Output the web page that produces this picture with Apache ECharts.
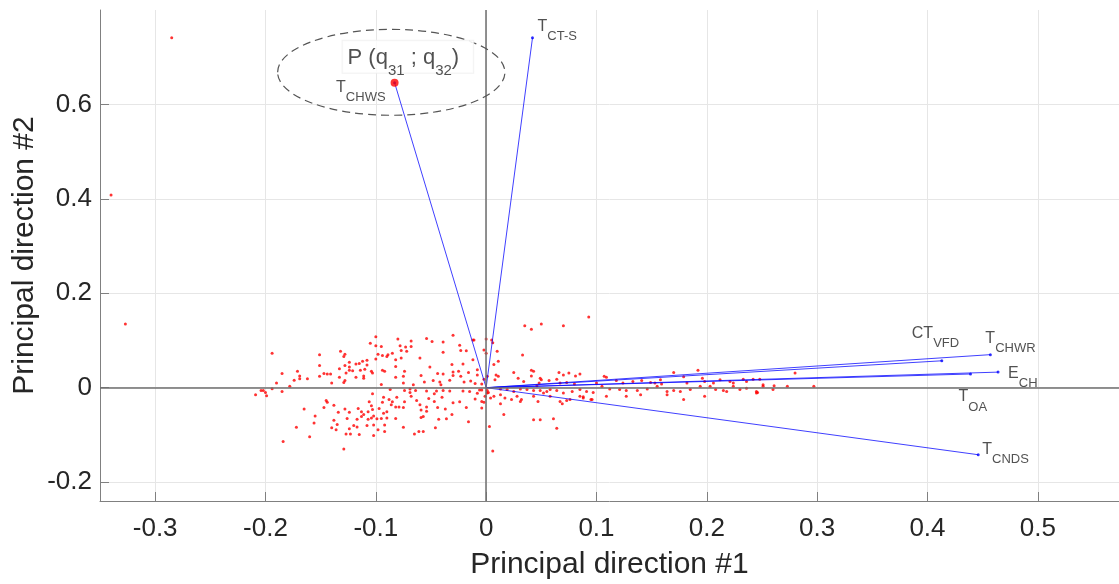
<!DOCTYPE html>
<html>
<head>
<meta charset="utf-8">
<title>Principal component biplot</title>
<script src="https://cdn.jsdelivr.net/npm/echarts@6/dist/echarts.min.js"></script>
<style>
  html, body { margin: 0; padding: 0; background: #ffffff; }
  #chart { width: 1119px; height: 584px; }
</style>
</head>
<body>
<div id="chart"></div>
<script>
// ---- axes ----
const xTicks = [-0.3, -0.2, -0.1, 0, 0.1, 0.2, 0.3, 0.4, 0.5];
const yTicks = [-0.2, 0, 0.2, 0.4, 0.6];
const xRange = [-0.35, 0.5736];
const yRange = [-0.24, 0.8];
const xTitle = 'Principal direction #1';
const yTitle = 'Principal direction #2';

// ---- variable loadings (vectors from the origin) ----
const varMain = ['T', 'T', 'CT', 'T', 'E', 'T', 'T'];
const varSub  = ['CT-S', 'CHWS', 'VFD', 'CHWR', 'CH', 'OA', 'CNDS'];
const loadX   = [0.042, -0.083, 0.413, 0.457, 0.464, 0.439, 0.446];
const loadY   = [0.741, 0.646, 0.057, 0.070, 0.033, 0.029, -0.142];

// highlighted loading P (q31 ; q32) and the ring drawn around it
const pIndex = 1;
const pMain = ['P (q', ' ; q', ')'];
const pSub = ['31', '32'];
const ringCenter = [-0.086, 0.668];
const ringRadius = [0.103, 0.091];

// ---- observation scores ----
const scores = [
  [-0.194,0.073],[-0.151,0.070],[-0.132,0.077],[-0.128,0.071],[-0.129,0.066],[-0.100,0.108],[-0.105,0.094],
  [-0.100,0.089],[-0.095,0.087],[-0.080,0.103],[-0.078,0.089],[-0.073,0.086],[-0.068,0.099],[-0.068,0.087],
  [-0.072,0.077],[-0.077,0.079],[-0.054,0.104],[-0.049,0.098],[-0.039,0.097],[-0.039,0.075],[-0.030,0.111],
  [-0.024,0.090],[-0.023,0.079],[-0.018,0.078],[-0.011,0.101],[0.000,0.103],[-0.002,0.080],[0.000,0.073],
  [-0.124,0.054],[-0.115,0.051],[-0.112,0.056],[-0.108,0.058],[-0.100,0.061],[-0.098,0.071],[-0.094,0.068],
  [-0.089,0.070],[-0.090,0.066],[-0.085,0.073],[-0.082,0.059],[-0.077,0.063],[-0.060,0.063],[-0.031,0.049],
  [-0.021,0.050],[-0.012,0.059],[-0.008,0.038],
  [-0.151,0.047],[-0.144,0.029],[-0.147,0.030],[-0.141,0.029],[-0.133,0.040],[-0.128,0.047],[-0.124,0.044],
  [-0.127,0.031],[-0.124,0.037],[-0.118,0.050],[-0.121,0.036],[-0.114,0.037],[-0.110,0.039],[-0.108,0.048],
  [-0.104,0.035],[-0.103,0.031],[-0.094,0.037],[-0.092,0.035],[-0.082,0.045],[-0.074,0.035],[-0.075,0.024],
  [-0.051,0.044],[-0.059,0.026],[-0.044,0.030],[-0.039,0.029],[-0.030,0.033],[-0.025,0.035],[-0.030,0.026],
  [-0.023,0.024],[-0.016,0.032],[-0.008,0.027],
  [-0.185,0.030],[-0.171,0.035],[-0.169,0.025],[-0.169,0.019],[-0.162,0.019],[-0.174,0.016],[-0.190,0.010],
  [-0.178,0.003],[-0.151,0.024],[-0.140,0.010],[-0.133,0.022],[-0.129,0.011],[-0.128,0.015],[-0.118,0.022],
  [-0.111,0.025],[-0.111,0.020],[-0.095,0.007],[-0.082,0.022],[-0.075,0.010],[-0.066,0.006],[-0.056,0.012],
  [-0.048,0.015],[-0.042,0.012],[-0.041,0.006],[-0.033,0.016],[-0.020,0.012],[-0.014,0.014],[-0.010,0.009],
  [-0.004,0.008],[-0.002,0.018],
  [-0.209,-0.015],[-0.204,-0.006],[-0.202,-0.006],[-0.200,-0.010],[-0.199,-0.017],[-0.194,-0.002],[-0.185,-0.008],
  [-0.165,-0.045],[-0.172,-0.084],[-0.160,-0.104],[-0.184,-0.114],[-0.155,-0.060],[-0.156,-0.075],[-0.145,-0.027],
  [-0.144,-0.031],[-0.147,-0.042],[-0.138,-0.037],[-0.138,-0.069],[-0.134,-0.052],[-0.140,-0.085],[-0.135,-0.078],
  [-0.136,-0.089],[-0.128,-0.045],[-0.126,-0.065],[-0.124,-0.052],[-0.124,-0.087],[-0.127,-0.098],[-0.123,-0.098],
  [-0.120,-0.080],[-0.117,-0.083],[-0.115,-0.099],[-0.117,-0.067],[-0.116,-0.044],[-0.113,-0.051],[-0.113,-0.061],
  [-0.111,-0.057],[-0.107,-0.051],[-0.107,-0.067],[-0.108,-0.080],[-0.106,-0.030],[-0.103,-0.013],[-0.104,-0.038],
  [-0.103,-0.046],[-0.102,-0.060],[-0.104,-0.064],[-0.102,-0.079],[-0.102,-0.101],[-0.098,-0.089],[-0.099,-0.066],
  [-0.095,-0.065],[-0.097,-0.044],[-0.093,-0.054],[-0.094,-0.031],[-0.093,-0.020],[-0.092,-0.079],[-0.092,-0.093],
  [-0.090,-0.064],[-0.090,-0.051],[-0.088,-0.025],[-0.085,-0.030],[-0.086,-0.036],[-0.082,-0.041],[-0.082,-0.065],
  [-0.079,-0.041],[-0.075,-0.084],[-0.075,-0.042],[-0.081,-0.020],[-0.074,-0.030],[-0.074,-0.006],[-0.069,-0.010],
  [-0.064,-0.006],[-0.068,-0.018],[-0.063,-0.027],[-0.060,-0.036],[-0.059,-0.047],[-0.059,-0.063],[-0.057,-0.061],
  [-0.054,-0.050],[-0.054,-0.041],[-0.052,-0.023],[-0.047,-0.029],[-0.047,-0.013],[-0.040,-0.020],[-0.044,-0.042],
  [-0.037,-0.045],[-0.043,-0.067],[-0.046,-0.085],[-0.065,-0.098],[-0.061,-0.093],[-0.057,-0.093],[-0.036,-0.066],
  [-0.031,-0.057],[-0.030,-0.032],[-0.024,-0.030],[-0.018,-0.042],[-0.016,-0.072],[-0.010,-0.024],[-0.008,-0.012],
  [-0.002,-0.031],[-0.001,-0.018],[-0.004,-0.005],[0.001,-0.006],[0.002,-0.010],[0.003,-0.082],[-0.129,-0.130],
  [-0.087,-0.004],[-0.069,-0.003],[-0.054,-0.007],[-0.045,-0.007],[-0.039,-0.006],[-0.033,-0.007],[-0.021,-0.007],
  [-0.015,-0.008],[-0.006,-0.005],
  [0.005,0.101],[0.010,0.077],[0.011,0.056],[0.007,0.049],[0.009,0.027],[0.011,0.024],[0.008,0.017],[0.001,0.024],
  [0.033,0.069],[0.025,0.032],[0.029,0.020],[0.034,0.013],[0.041,0.037],[0.043,0.035],[0.041,0.025],[0.049,0.020],
  [0.048,0.010],[0.046,0.004],[0.050,0.017],[0.066,0.032],[0.070,0.027],[0.075,0.031],[0.081,0.025],[0.085,0.029],
  [0.064,0.018],[0.057,0.015],[0.067,0.010],[0.073,0.011],[0.080,0.008],[0.100,0.010],[0.107,0.024],[0.109,0.022],
  [0.118,0.015],[0.124,0.010],[0.133,0.013],[0.141,0.015],[0.149,0.011],[0.153,0.010],[0.158,0.017],[0.159,0.008],
  [0.170,0.032],[0.179,0.023],[0.182,0.010],[0.192,0.037],[0.196,0.020],[0.198,0.013],[0.206,0.010],[0.212,0.017],
  [0.221,0.013],[0.224,0.010],[0.233,0.018],[0.236,0.013],[0.242,0.018],[0.248,0.018],[0.251,0.003],[0.260,-0.004],
  [0.273,0.003],[0.280,0.031],
  [0.013,-0.003],[0.019,-0.004],[0.025,-0.008],[0.031,-0.003],[0.037,-0.004],[0.043,-0.006],[0.049,-0.006],
  [0.055,-0.008],[0.058,-0.004],[0.064,-0.006],[0.070,-0.011],[0.078,-0.008],[0.085,-0.004],[0.091,-0.008],
  [0.097,-0.010],[0.105,0.003],[0.112,-0.003],[0.121,-0.004],[0.127,-0.006],[0.137,-0.006],[0.146,-0.003],
  [0.155,0.003],[0.164,-0.008],[0.170,-0.006],[0.176,-0.008],[0.185,-0.004],[0.194,0.003],[0.203,0.003],
  [0.208,-0.004],[0.215,-0.006],[0.224,0.003],[0.230,-0.004],[0.236,-0.001],[0.245,-0.008],[0.251,0.006],
  [0.001,-0.011],[0.004,-0.022],[0.007,-0.018],[0.013,-0.015],[0.017,-0.022],[0.023,-0.025],[0.028,-0.018],
  [0.032,-0.025],[0.043,-0.018],[0.047,-0.029],[0.052,-0.011],[0.058,-0.018],[0.067,-0.029],[0.069,-0.034],
  [0.073,-0.027],[0.076,-0.025],[0.085,-0.018],[0.088,-0.022],[0.096,-0.025],[0.109,-0.018],[0.127,-0.018],
  [0.140,-0.015],[0.164,-0.015],[0.179,-0.025],[0.198,-0.018],[0.218,-0.008],[0.245,-0.011],
  [0.013,-0.034],[0.016,-0.057],[0.031,-0.029],[0.043,-0.068],[0.049,-0.068],[0.061,-0.066],[0.064,-0.086],
  [-0.004,-0.043],[-0.004,-0.029],
  [-0.285,0.741],[-0.340,0.408],[-0.327,0.135],[0.035,0.131],[0.041,0.124],[0.050,0.135],[0.093,0.150],
  [0.070,0.131],[-0.012,0.101],[0.006,0.095],[0.006,-0.134],[0.297,0.003],[0.261,0.004],[0.246,-0.010],
  [0.095,-0.025],[0.088,-0.019]
];

// ---- presentation ----
const FONT = '"Liberation Sans", Arial, Helvetica, sans-serif';
const INK = '#262626';

// where each loading label sits next to its arrow tip (pixels)
const labelPlace = {
  'CT-S': { align: 'left',  dx: 5,   dy: -11 },
  'CHWS': { align: 'right', dx: -9,  dy: 5 },
  'VFD':  { align: 'left',  dx: -30, dy: -27 },
  'CHWR': { align: 'left',  dx: -5,  dy: -16 },
  'CH':   { align: 'left',  dx: 10,  dy: 1 },
  'OA':   { align: 'left',  dx: -12, dy: 23 },
  'CNDS': { align: 'left',  dx: 4,   dy: -5 }
};

const fmtTick = v => (Math.abs(v) < 1e-9 ? '0' : String(+v.toFixed(1)));

const loadingItems = varSub.map((sub, i) => {
  const p = labelPlace[sub];
  return {
    value: [loadX[i], loadY[i]],
    label: {
      show: true,
      position: 'inside',
      align: p.align,
      verticalAlign: 'middle',
      offset: [p.dx, p.dy],
      formatter: '{m|' + varMain[i] + '}{s|' + sub + '}'
    }
  };
});

const chart = echarts.init(document.getElementById('chart'), null, { renderer: 'canvas' });

chart.setOption({
  animation: false,
  backgroundColor: '#ffffff',
  textStyle: { fontFamily: FONT },
  grid: {
    left: 100, right: 0, top: 10, bottom: 83,
    containLabel: false,
    outerBoundsMode: 'none'
  },
  xAxis: {
    type: 'value',
    min: xRange[0], max: xRange[1],
    name: xTitle,
    nameLocation: 'middle',
    nameGap: 49,
    nameMoveOverlap: false,
    nameTextStyle: { fontSize: 30, color: INK, fontFamily: FONT },
    axisLine: { show: true, onZero: false, lineStyle: { color: '#808080', width: 1 } },
    axisTick: { show: true, inside: true, length: 9, customValues: xTicks,
                lineStyle: { color: '#808080', width: 1 } },
    axisLabel: { customValues: xTicks, formatter: fmtTick, fontSize: 26, color: INK,
                 fontFamily: FONT, margin: 15 },
    splitLine: { show: true, lineStyle: { color: '#e6e6e6', width: 1 } }
  },
  yAxis: {
    type: 'value',
    min: yRange[0], max: yRange[1],
    name: yTitle,
    nameLocation: 'middle',
    nameGap: 60,
    nameRotate: 90,
    nameMoveOverlap: false,
    nameTextStyle: { fontSize: 30, color: INK, fontFamily: FONT },
    axisLine: { show: true, onZero: false, lineStyle: { color: '#808080', width: 1 } },
    axisTick: { show: true, inside: true, length: 9, customValues: yTicks,
                lineStyle: { color: '#808080', width: 1 } },
    axisLabel: { customValues: yTicks, formatter: fmtTick, fontSize: 26, color: INK,
                 fontFamily: FONT, margin: 8 },
    splitLine: { show: true, lineStyle: { color: '#e6e6e6', width: 1 } }
  },
  series: [
    {
      // zero reference lines
      type: 'line',
      data: [],
      silent: true,
      z: 1,
      markLine: {
        silent: true,
        symbol: ['none', 'none'],
        label: { show: false },
        lineStyle: { color: '#6e6e6e', width: 1.5, type: 'solid' },
        data: [{ xAxis: 0 }, { yAxis: 0 }]
      }
    },
    {
      name: 'scores',
      type: 'scatter',
      data: scores,
      symbol: 'circle',
      symbolSize: 3,
      itemStyle: { color: '#ff0000' },
      silent: true,
      z: 2
    },
    {
      name: 'loading vectors',
      type: 'lines',
      coordinateSystem: 'cartesian2d',
      polyline: false,
      silent: true,
      z: 3,
      lineStyle: { color: '#0000ff', width: 1, opacity: 0.75 },
      data: varSub.map((s, i) => ({ coords: [[0, 0], [loadX[i], loadY[i]]] }))
    },
    {
      name: 'loadings',
      type: 'scatter',
      data: loadingItems,
      symbol: 'circle',
      symbolSize: 3,
      itemStyle: { color: '#0000ff' },
      silent: true,
      z: 4,
      label: {
        color: INK,
        rich: {
          m: { fontSize: 16, lineHeight: 20, color: INK, fontFamily: FONT },
          s: { fontSize: 13, lineHeight: 20, color: INK, fontFamily: FONT, padding: [20, 0, 0, 0] }
        }
      }
    },
    {
      name: 'ring',
      type: 'custom',
      silent: true,
      clip: false,
      z: 5,
      data: [[ringCenter[0], ringCenter[1], ringRadius[0], ringRadius[1]]],
      renderItem: (params, api) => {
        const c = api.coord([api.value(0), api.value(1)]);
        const r = api.size([api.value(2), api.value(3)]);
        return {
          type: 'ellipse',
          shape: { cx: c[0], cy: c[1], rx: r[0], ry: r[1] },
          style: { fill: 'none', stroke: '#555555', lineWidth: 1.2, lineDash: [8, 5] }
        };
      }
    },
    {
      name: 'P',
      type: 'scatter',
      data: [{
        value: [loadX[pIndex], loadY[pIndex]],
        label: {
          show: true,
          position: 'inside',
          align: 'left',
          verticalAlign: 'middle',
          offset: [-52, -26],
          backgroundColor: '#ffffff',
          borderColor: '#efefef',
          borderWidth: 1,
          padding: [4, 14, 2, 5],
          formatter: '{m|' + pMain[0] + '}{s|' + pSub[0] + '}{m|' + pMain[1] + '}{s|' + pSub[1] + '}{m|' + pMain[2] + '}',
          rich: {
            m: { fontSize: 22, lineHeight: 26, color: INK, fontFamily: FONT },
            s: { fontSize: 15, lineHeight: 26, color: INK, fontFamily: FONT, padding: [26, 0, 0, 0] }
          }
        }
      }],
      symbol: 'circle',
      symbolSize: 8,
      itemStyle: { color: '#ff0000' },
      silent: true,
      z: 6
    }
  ]
});
</script>
</body>
</html>
